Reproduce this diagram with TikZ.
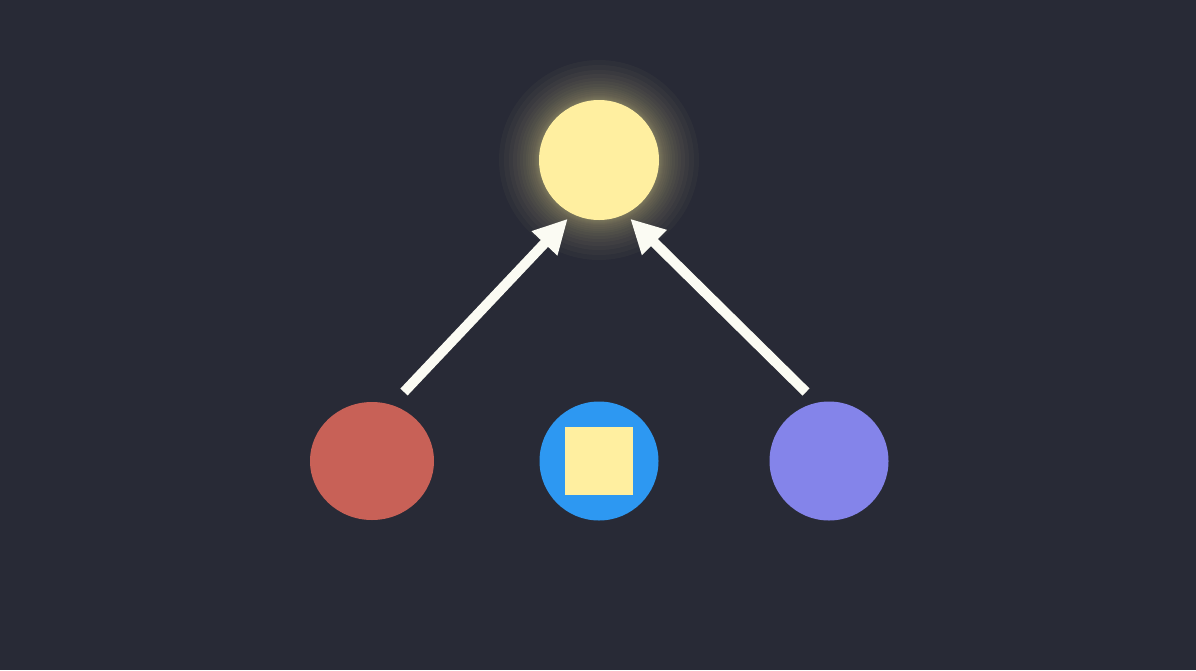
\documentclass[tikz,border=0pt]{standalone}
\usepackage{xcolor}
\usepackage{tikz}
\definecolor{bgdark}{HTML}{282A36}
\definecolor{sunyellow}{HTML}{FFEFA0}
\definecolor{brickred}{HTML}{C86157}
\definecolor{skyblue}{HTML}{2D98F2}
\definecolor{lavender}{HTML}{8484EA}
\definecolor{arrowwhite}{HTML}{FBFBF3}
\usetikzlibrary{shapes, arrows.meta, positioning, calc}

\begin{document}
\begin{tikzpicture}[
    x=1pt, y=-1pt,
    dot/.style={circle, inner sep=0pt, minimum size=119pt},
    link/.style={draw=arrowwhite, line width=10pt, -{Triangle[width=33pt, length=34pt]}},
]
    % Background
    \fill[bgdark] (0,0) rectangle (1196,670);
    \useasboundingbox (0,0) rectangle (1196,670);

    % Glow
    \foreach \r in {61,62,63,64,65,67,69,71,73,76,79,82,86,90,95,100} {
        \fill[sunyellow, opacity=0.033] (599,160) circle (\r);
    }

    % Target
    \node[dot, fill=sunyellow, minimum size=120pt, outer sep=6.5pt] (sun) at (599,160) {};

    % Sources
    \node[ellipse, inner sep=0pt, minimum width=124pt, minimum height=118pt, fill=brickred] (red) at (372,461) {};
    \node[dot, fill=skyblue] (blue) at (599,461) {};
    \node[rectangle, inner sep=0pt, minimum size=68pt, fill=sunyellow] (square) at (599,461) {};
    \node[dot, fill=lavender] (purple) at (829,461) {};

    % Arrows
    \coordinate (redtail) at (404,392);
    \coordinate (purpletail) at (806,392);
    \draw[link] (redtail) -- (sun.-118);
    \draw[link] (purpletail) -- (sun.-62);

\end{tikzpicture}
\end{document}
